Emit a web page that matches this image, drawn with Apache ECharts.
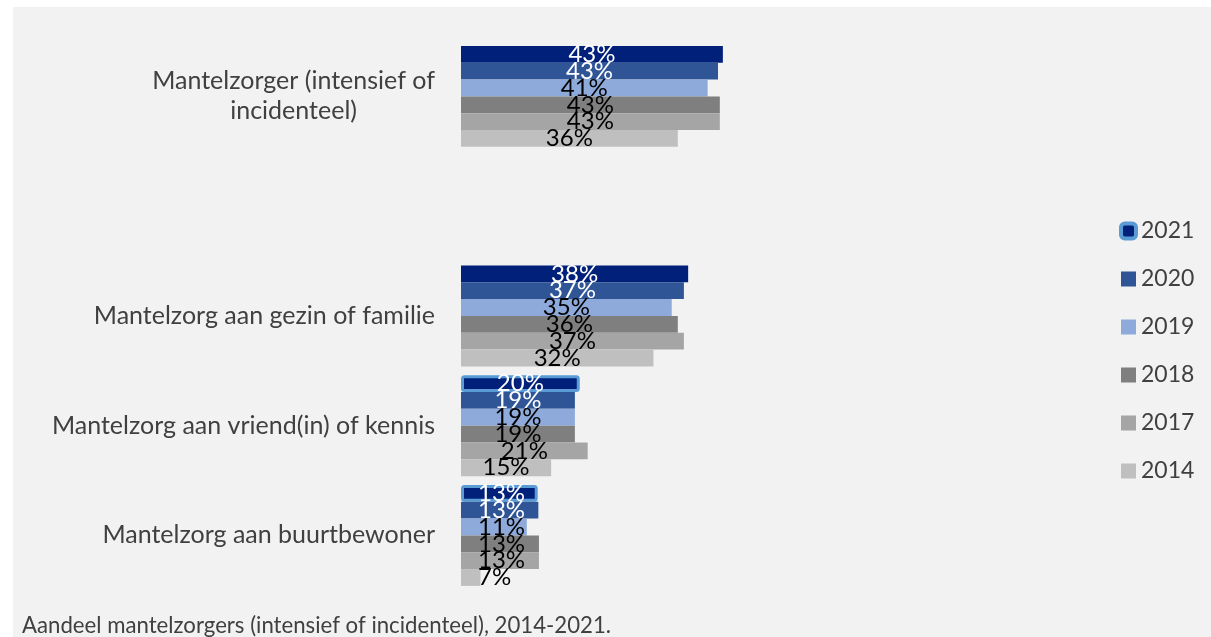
<!DOCTYPE html>
<html>
<head>
<meta charset="utf-8">
<script src="https://cdn.jsdelivr.net/npm/echarts@6/dist/echarts.min.js"></script>
<style>
  html, body { margin: 0; padding: 0; background: #ffffff; }
  #chart { width: 1211px; height: 637px; }
</style>
</head>
<body>
<div id="chart"></div>
<script>
// Categories (top to bottom); the empty one is the gap in the original chart
const categories = ['Mantelzorger (intensief of incidenteel)', '', 'Mantelzorg aan gezin of familie', 'Mantelzorg aan vriend(in) of kennis', 'Mantelzorg aan buurtbewoner'];
const years = ['2021', '2020', '2019', '2018', '2017', '2014'];

// Bar lengths as drawn (percent)
const values2021 = [43.0, null, 37.3, 19.5, 12.6];
const values2020 = [42.2, null, 36.6, 18.7, 12.7];
const values2019 = [40.5, null, 34.6, 18.7, 10.8];
const values2018 = [42.5, null, 35.6, 18.7, 12.8];
const values2017 = [42.5, null, 36.6, 20.8, 12.8];
const values2014 = [35.6, null, 31.6, 14.8, 3.2];

// Data labels as printed
const labels2021 = ['43%', '', '38%', '20%', '13%'];
const labels2020 = ['43%', '', '37%', '19%', '13%'];
const labels2019 = ['41%', '', '35%', '19%', '11%'];
const labels2018 = ['43%', '', '36%', '19%', '13%'];
const labels2017 = ['43%', '', '37%', '21%', '13%'];
const labels2014 = ['36%', '', '32%', '15%', '7%'];

const caption = 'Aandeel mantelzorgers (intensief of incidenteel), 2014-2021.';

const colors = ['#00207A', '#2F5597', '#8EAADB', '#7F7F7F', '#A5A5A5', '#BFBFBF'];
const labelColors = ['#ffffff', '#ffffff', '#000000', '#000000', '#000000', '#000000'];
const allValues = [values2021, values2020, values2019, values2018, values2017, values2014];
const allLabels = [labels2021, labels2020, labels2019, labels2018, labels2017, labels2014];
// 2021 items shown as selected (highlight border) in the original
const selected2021 = [false, false, false, true, true];

const FONT = 'Lato, "Open Sans", sans-serif';
const GRID_LEFT = 461;

const series = years.map((y, i) => ({
  name: y,
  type: 'bar',
  barGap: '0%',
  barCategoryGap: '8%',
  itemStyle: { color: colors[i] },
  label: {
    show: true,
    position: 'inside',
    color: labelColors[i],
    fontSize: 24,
    fontFamily: FONT,
    formatter: p => allLabels[i][p.dataIndex]
  },
  data: allValues[i].map((v, j) => {
    if (i === 0 && selected2021[j]) {
      return { value: v, itemStyle: { borderColor: '#5B9BD5', borderWidth: 3, borderRadius: 2 } };
    }
    return v;
  })
}));

const chart = echarts.init(document.getElementById('chart'));
chart.setOption({
  animation: false,
  backgroundColor: 'transparent',
  graphic: [{
    type: 'rect', z: -10, silent: true,
    shape: { x: 13, y: 7, width: 1198, height: 630 },
    style: { fill: '#F2F2F2' }
  }],
  title: {
    text: caption,
    left: 17, top: 610,
    textStyle: { fontSize: 22.2, fontWeight: 'normal', color: '#404040', fontFamily: FONT }
  },
  legend: {
    orient: 'vertical',
    left: 1114, top: 214,
    itemWidth: 15, itemHeight: 15,
    itemGap: 24,
    textStyle: { fontSize: 23, color: '#404040', fontFamily: FONT, lineHeight: 24 },
    data: years.map((y, i) => i === 0
      ? { name: y, icon: 'roundRect', itemStyle: { borderColor: '#5B9BD5', borderWidth: 4 } }
      : { name: y, icon: 'rect' })
  },
  grid: { left: GRID_LEFT, right: 445.5, top: 41.5, bottom: 46.7 },
  xAxis: {
    type: 'value', min: 0, max: 50, show: false
  },
  yAxis: {
    type: 'category',
    inverse: true,
    data: categories,
    axisLine: { show: false },
    axisTick: { show: false },
    axisLabel: {
      margin: 26,
      fontSize: 25,
      color: '#404040',
      fontFamily: FONT,
      formatter: v => {
        if (v === 'Mantelzorger (intensief of incidenteel)') {
          return '{c|Mantelzorger (intensief of}\n{c|incidenteel)}';
        }
        return v;
      },
      rich: { c: { align: 'center', fontSize: 25, color: '#404040', fontFamily: FONT, lineHeight: 30 } }
    }
  },
  labelLayout: function (params) {
    const minLeft = GRID_LEFT + 17;
    if (params.labelRect && params.labelRect.x < minLeft) {
      return { dx: minLeft - params.labelRect.x };
    }
    return {};
  },
  series: series
});
</script>
</body>
</html>
